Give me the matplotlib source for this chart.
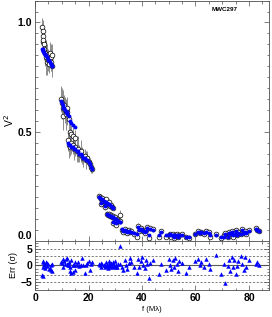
import matplotlib
matplotlib.use("Agg")
import matplotlib.pyplot as plt
from matplotlib.ticker import MultipleLocator

# ---------------- data ----------------
freq = [
    # cluster 1
    2.6, 2.8, 2.9, 3.0, 3.1, 3.3, 3.5, 3.7, 4.0, 4.3, 4.6, 4.9, 5.2, 5.5, 5.8, 6.1, 6.3, 6.5,
    # cluster 2
    9.7, 10.0, 10.3, 10.6, 10.9, 11.2, 11.5, 11.8, 12.1, 12.5, 13.0, 13.6, 14.2, 14.8,
    # cluster 3
    12.3, 12.7, 13.1, 13.5, 14.0, 14.5, 15.0, 15.5, 16.0, 16.5, 17.0, 17.5, 18.0, 18.5,
    19.0, 19.5, 20.0, 20.5, 21.0, 21.4,
    # cluster 4a
    24.0, 24.4, 24.6, 24.8, 25.2, 25.6, 26.0, 26.2, 26.4, 26.8, 27.2, 27.6, 28.0, 28.4, 28.8, 29.2,
    # cluster 4b
    26.8, 27.2, 27.6, 28.0, 28.4, 28.8, 29.0, 29.2, 29.6, 30.0, 30.2, 30.4, 30.8, 31.2, 31.6, 31.8,
    # long baselines
    32.5, 33.0, 33.5, 34.0, 34.5, 35.0, 35.5, 36.0, 37.0, 38.0, 38.5, 39.0, 39.6, 40.0, 40.5,
    41.0, 41.5, 42.0, 42.5, 43.0, 44.0, 46.5, 47.0, 49.0, 50.0, 50.5, 51.0, 51.5, 52.0, 52.5,
    53.0, 53.5, 54.0, 55.0, 56.5, 57.5, 60.0, 61.0, 61.5, 62.0, 63.0, 64.0, 65.0, 65.5, 67.5,
    69.5, 70.5, 71.0, 72.0, 72.5, 73.0, 73.6, 74.0, 74.5, 75.0, 75.5, 76.0, 77.0, 77.5, 78.0,
    78.5, 79.0, 80.0, 82.5, 83.0, 83.7,
]
v2_obs = [
    0.98, 0.96, 0.91, 0.94, 0.92, 0.90, 0.88, 0.86, 0.84, 0.82, 0.85, 0.83, 0.81, 0.86, 0.84, 0.82, 0.80, 0.85,
    0.65, 0.63, 0.61, 0.57, 0.62, 0.60, 0.58, 0.61, 0.59, 0.56, 0.50, 0.49, 0.48, 0.47,
    0.46, 0.44, 0.43, 0.45, 0.44, 0.42, 0.43, 0.41, 0.42, 0.40, 0.41, 0.39, 0.38, 0.39,
    0.37, 0.38, 0.36, 0.35, 0.34, 0.33,
    0.205, 0.20, 0.17, 0.19, 0.195, 0.185, 0.18, 0.155, 0.19, 0.175, 0.17, 0.18, 0.16, 0.165, 0.155, 0.15,
    0.125, 0.12, 0.125, 0.115, 0.12, 0.11, 0.08, 0.115, 0.105, 0.11, 0.075, 0.10, 0.09, 0.095, 0.12, 0.09,
    0.05, 0.04, 0.055, 0.045, 0.035, 0.05, 0.04, 0.045, 0.03, 0.02, 0.07, 0.045, 0.06, 0.05, 0.045,
    0.035, 0.05, 0.065, 0.015, 0.06, 0.055, 0.02, 0.045, 0.02, 0.025, 0.03, 0.02, 0.03, 0.015, 0.025,
    0.03, 0.02, 0.025, 0.03, 0.02, 0.015, 0.03, 0.045, 0.035, 0.04, 0.03, 0.045, 0.04, 0.02, 0.03,
    0.015, 0.025, 0.035, 0.02, 0.04, 0.03, 0.045, 0.02, 0.035, 0.05, 0.025, 0.04, 0.03, 0.055, 0.035,
    0.045, 0.03, 0.05, 0.06, 0.05, 0.045,
]
v2_err = [
    0.04, 0.05, 0.05, 0.05, 0.04, 0.06, 0.05, 0.06, 0.08, 0.06, 0.05, 0.05, 0.04, 0.05, 0.06, 0.04, 0.05, 0.05,
    0.06, 0.07, 0.08, 0.06, 0.05, 0.06, 0.07, 0.05, 0.06, 0.05, 0.05, 0.04, 0.04, 0.04,
    0.05, 0.06, 0.04, 0.05, 0.04, 0.05, 0.04, 0.05, 0.06, 0.04, 0.05, 0.04, 0.04, 0.03,
    0.04, 0.03, 0.03, 0.03, 0.03, 0.02,
    0.012, 0.010, 0.012, 0.010, 0.012, 0.010, 0.010, 0.012, 0.010, 0.012, 0.010, 0.012, 0.010, 0.010, 0.012, 0.010,
    0.010, 0.012, 0.010, 0.010, 0.012, 0.010, 0.010, 0.010, 0.012, 0.010, 0.010, 0.010, 0.012, 0.010, 0.020, 0.010,
    0.008, 0.008, 0.010, 0.008, 0.008, 0.010, 0.008, 0.008, 0.008, 0.008, 0.010, 0.008, 0.010, 0.008, 0.008,
    0.008, 0.008, 0.010, 0.008, 0.010, 0.008, 0.008, 0.008, 0.008, 0.008, 0.008, 0.008, 0.008, 0.008, 0.008,
    0.008, 0.008, 0.008, 0.008, 0.008, 0.008, 0.008, 0.008, 0.008, 0.008, 0.008, 0.008, 0.008, 0.008, 0.008,
    0.008, 0.008, 0.008, 0.008, 0.008, 0.008, 0.008, 0.008, 0.008, 0.008, 0.008, 0.008, 0.008, 0.010, 0.008,
    0.008, 0.008, 0.008, 0.010, 0.008, 0.008,
]
v2_model = [
    0.88, 0.88, 0.87, 0.87, 0.87, 0.86, 0.86, 0.85, 0.85, 0.84, 0.84, 0.83, 0.83, 0.82, 0.81, 0.81, 0.80, 0.80,
    0.64, 0.63, 0.62, 0.61, 0.61, 0.60, 0.59, 0.59, 0.58, 0.57, 0.55, 0.54, 0.53, 0.52,
    0.45, 0.44, 0.44, 0.43, 0.43, 0.42, 0.42, 0.41, 0.41, 0.40, 0.40, 0.39, 0.38, 0.38,
    0.37, 0.37, 0.36, 0.35, 0.34, 0.33,
    0.20, 0.195, 0.175, 0.19, 0.19, 0.185, 0.18, 0.16, 0.18, 0.175, 0.17, 0.17, 0.165, 0.16, 0.155, 0.15,
    0.125, 0.12, 0.12, 0.115, 0.115, 0.11, 0.085, 0.11, 0.105, 0.10, 0.08, 0.10, 0.095, 0.09, 0.085, 0.085,
    0.055, 0.045, 0.05, 0.045, 0.04, 0.045, 0.04, 0.04, 0.035, 0.03, 0.065, 0.05, 0.055, 0.05, 0.045,
    0.04, 0.045, 0.06, 0.025, 0.055, 0.05, 0.025, 0.04, 0.025, 0.025, 0.03, 0.025, 0.025, 0.02, 0.025,
    0.025, 0.02, 0.025, 0.025, 0.02, 0.02, 0.03, 0.04, 0.035, 0.04, 0.035, 0.04, 0.035, 0.025, 0.025,
    0.02, 0.02, 0.03, 0.02, 0.035, 0.03, 0.04, 0.025, 0.03, 0.045, 0.025, 0.035, 0.03, 0.05, 0.035,
    0.04, 0.035, 0.045, 0.055, 0.05, 0.045,
]
resid = [
    -2.9, -3.2, 1.4, 1.0, -0.5, 0.3, 0.6, -0.7, 1.2, 0.9, -0.3, 0.5, -1.2, -0.8, -1.5, 0.2, -1.7, 0.4,
    1.2, 0.8, 2.0, -0.4, 1.5, 0.5, 1.9, 0.6, 2.2, 1.0, -1.8, -2.3, -1.9, -1.5,
    0.3, 0.1, -0.4, 1.6, 0.2, 0.0, 1.0, 0.1, 1.2, -0.2, 0.3, 2.2, 0.2, -2.2, 0.0, 0.8, 1.3, -1.5, 0.6, 1.1,
    0.5, 0.3, -0.6, 0.8, 0.4, 0.0, 0.2, -0.5, 1.0, 0.0, -0.3, 1.3, -0.5, 0.6, 0.1, 0.0,
    0.1, -0.8, 0.5, 0.2, 0.8, 0.0, -0.6, 1.0, 0.1, 1.5, -0.4, 0.0, -0.5, 0.6, 5.8, 0.4,
    -0.6, -1.3, 1.6, 0.0, -1.2, 0.7, 2.2, 1.2, -0.6, -2.2, 2.0, -0.5, 1.4, 2.6, 0.1,
    -0.7, 1.8, 0.5, -3.7, 0.7, 1.6, -2.7, 0.6, -1.5, 1.9, 0.1, -1.0, 1.6, -0.5, 2.2,
    0.6, -1.6, 1.3, 0.7, -2.4, -0.5, 1.4, 2.1, 0.2, 1.2, -0.6, 2.1, 0.5, -1.0, 3.2,
    -2.6, 0.4, -5.2, -0.1, 1.6, -1.8, 2.5, -0.6, 1.6, -2.5, -0.2, 1.5, 3.0, 0.5, -1.3,
    2.5, -0.6, 1.7, 0.5, 1.2, 0.0,
]
x_ticks = [0, 20, 40, 60, 80]
v2_ticks = [0.0, 0.5, 1.0]
err_ticks = [-5, 0, 5]

# ---------------- figure ----------------
plt.rcParams['font.family'] = ['Liberation Sans', 'DejaVu Sans']
fig = plt.figure(figsize=(2.72, 3.17), dpi=100)
ax = fig.add_axes([0.129, 0.240, 0.860, 0.758])
axr = fig.add_axes([0.129, 0.085, 0.860, 0.155], sharex=ax)

ax.errorbar(freq, v2_obs, yerr=v2_err, fmt='none', ecolor='0.55', elinewidth=0.7, zorder=1)
ax.plot(freq, v2_obs, 'o', mfc='white', mec='black', ms=3.4, mew=0.5, zorder=2)
ax.plot(freq, v2_model, 'o', color='#0000ff', ms=2.8, mew=0, zorder=3)

ax.set_xlim(0, 87.5)
ax.set_ylim(0, 1.1)
ax.set_yticks(v2_ticks)
ax.set_yticklabels(['0.0', '0.5', '1.0'])
ax.yaxis.set_minor_locator(MultipleLocator(0.05))
ax.xaxis.set_major_locator(MultipleLocator(20))
ax.xaxis.set_minor_locator(MultipleLocator(5))
ax.tick_params(axis='x', labelbottom=False)
ax.set_ylabel('V$^2$', fontsize=7.5, labelpad=1)
ax.text(0.81, 0.975, 'MWC297', transform=ax.transAxes, fontsize=4.5,
        fontweight='bold', ha='center', va='top')

for y in [-5, -3, 3, 5]:
    axr.axhline(y, color='0.4', lw=0.6, ls=(0, (2.5, 2)), zorder=0)
axr.axhline(0, color='0.35', lw=0.8, zorder=0)
axr.plot(freq, resid, '^', color='#0000ff', ms=3.2, mew=0, zorder=3)
axr.set_ylim(-7.5, 7.5)
axr.set_yticks(err_ticks)
axr.set_yticklabels(['\u22125', '0', '5'])
axr.yaxis.set_minor_locator(MultipleLocator(1))
axr.set_xticks(x_ticks)
axr.set_ylabel('Err (\u03c3)', fontsize=6.5, labelpad=2)
axr.set_xlabel('f (M\u03bb)', fontsize=5.5, labelpad=2)

for a in (ax, axr):
    a.tick_params(which='both', direction='in', top=True, right=True, width=0.5, color='0.3')
    a.tick_params(which='major', length=3.5, labelsize=7.5, pad=2)
    a.tick_params(which='minor', length=1.8)
    for lab in a.get_xticklabels() + a.get_yticklabels():
        lab.set_fontweight('bold')
    for s in a.spines.values():
        s.set_linewidth(0.6)
        s.set_color('0.3')

# keep the "0.0" label clear of the residual panel's "5"
ax.get_yticklabels()[0].set_verticalalignment('bottom')

fig.savefig('out.png', dpi=100)
